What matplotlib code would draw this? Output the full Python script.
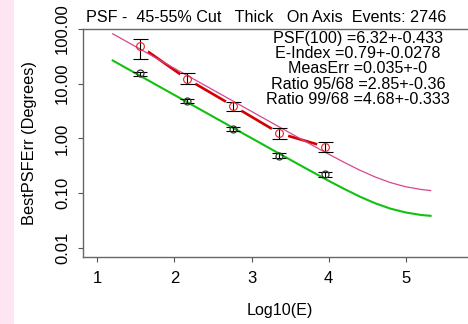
import matplotlib
matplotlib.use("Agg")
import matplotlib.pyplot as plt
from matplotlib.patches import Rectangle

# ---- data ----
pt_x = [1.55, 2.16, 2.76, 3.36, 3.95]
red_y = [49.4, 12.3, 3.94, 1.24, 0.708]
red_lo = [28.2, 9.95, 3.19, 0.967, 0.573]
red_hi = [65.6, 15.4, 4.66, 1.54, 0.874]
gray_y = [15.4, 4.87, 1.47, 0.484, 0.221]
gray_lo = [14.1, 4.53, 1.36, 0.445, 0.200]
gray_hi = [16.7, 5.22, 1.60, 0.536, 0.243]

curve_x = [1.2, 1.6, 2.0, 2.4, 2.8, 3.2, 3.6, 3.8, 4.0, 4.2, 4.4, 4.6, 4.8, 5.0, 5.2, 5.32]
pink_y = [82.0, 39.6, 19.1, 9.25, 4.47, 2.16, 1.045, 0.731, 0.514, 0.364, 0.263, 0.197,
          0.155, 0.130, 0.116, 0.111]
green_y = [26.6, 12.85, 6.21, 3.00, 1.449, 0.701, 0.340, 0.238, 0.167, 0.119, 0.0863,
           0.0651, 0.0518, 0.0440, 0.0396, 0.0383]

yticks = [0.01, 0.1, 1, 10, 100]
ytick_labels = ["0.01", "0.10", "1.00", "10.00", "100.00"]
xticks = [1, 2, 3, 4, 5]
xtick_labels = ["1", "2", "3", "4", "5"]

title = "PSF -  45-55% Cut   Thick   On Axis  Events: 2746"
info_lines = ["PSF(100) =6.32+-0.433", "E-Index =0.79+-0.0278", "MeasErr =0.035+-0",
              "Ratio 95/68 =2.85+-0.36", "Ratio 99/68 =4.68+-0.333"]
xlabel = "Log10(E)"
ylabel = "BestPSFErr (Degrees)"

FONT = "Liberation Sans"
W, H = 468, 324
fig = plt.figure(figsize=(W / 100, H / 100), dpi=100)
fig.patch.set_facecolor("white")
fig.patches.append(Rectangle((0, 0), 14 / W, 1, transform=fig.transFigure,
                             facecolor="#fde6f2", edgecolor="none", zorder=0))

ax = fig.add_axes([82.7 / W, 1 - 256.7 / H, (470 - 82.7) / W, (256.7 - 29) / H])
ax.set_yscale("log")
ax.set_xlim(0.8108, 5.831)
ax.set_ylim(0.00684, 100.3)

for s in ["left", "bottom", "top"]:
    ax.spines[s].set_color("#666666")
    ax.spines[s].set_linewidth(1.0)
ax.spines["right"].set_visible(False)

ax.set_yticks(yticks)
ax.set_yticklabels(ytick_labels, rotation=90, va="center", fontfamily=FONT, fontsize=12)
ax.minorticks_off()
ax.set_xticks(xticks)
ax.set_xticklabels(xtick_labels, fontfamily=FONT, fontsize=12)
ax.tick_params(axis="both", direction="out", length=3.6, width=0.8, color="#555555")
ax.tick_params(axis="y", pad=5.5)
ax.tick_params(axis="x", pad=6.7)

# red series: line with gaps around points (type="b")
ax.plot(pt_x, red_y, color="#d40000", lw=1.9, zorder=1)
ax.plot(pt_x, red_y, ls="none", marker="o", ms=13, mfc="white", mec="none", zorder=2)
# model curves
ax.plot(curve_x, green_y, color="#11c011", lw=1.5, zorder=1.5)
ax.plot(curve_x, pink_y, color="#d8468f", lw=0.9, zorder=3)

red_err = [[y - l for y, l in zip(red_y, red_lo)], [h - y for y, h in zip(red_y, red_hi)]]
gray_err = [[y - l for y, l in zip(gray_y, gray_lo)], [h - y for y, h in zip(gray_y, gray_hi)]]
ax.errorbar(pt_x, red_y, yerr=red_err, fmt="none", ecolor="black", elinewidth=0.8,
            capsize=5.4, capthick=0.8, zorder=4)
ax.errorbar(pt_x, gray_y, yerr=gray_err, fmt="none", ecolor="black", elinewidth=0.8,
            capsize=5.0, capthick=0.8, zorder=4)
ax.plot(pt_x, red_y, ls="none", marker="o", ms=5.6, mfc="none", mec="#f02020", mew=0.8, zorder=5)
ax.plot(pt_x, gray_y, ls="none", marker="o", ms=5.0, mfc="none", mec="#333333", mew=0.9, zorder=5)

def ftext(x, y, s, **kw):
    fig.text(x / W, 1 - y / H, s, **kw)

ftext(86, 18, title, ha="left", va="center", fontfamily=FONT, fontsize=11.6)
for i, line in enumerate(info_lines):
    ftext(358, 42.5 + 15.4 * i, line, ha="center", va="baseline",
          fontfamily=FONT, fontsize=11.6)
ftext(280, 311, xlabel, ha="center", va="center", fontfamily=FONT, fontsize=11.6)
ftext(30, 143, ylabel, ha="center", va="center", rotation=90, fontfamily=FONT, fontsize=11.8)

fig.savefig("out.png", dpi=100)
